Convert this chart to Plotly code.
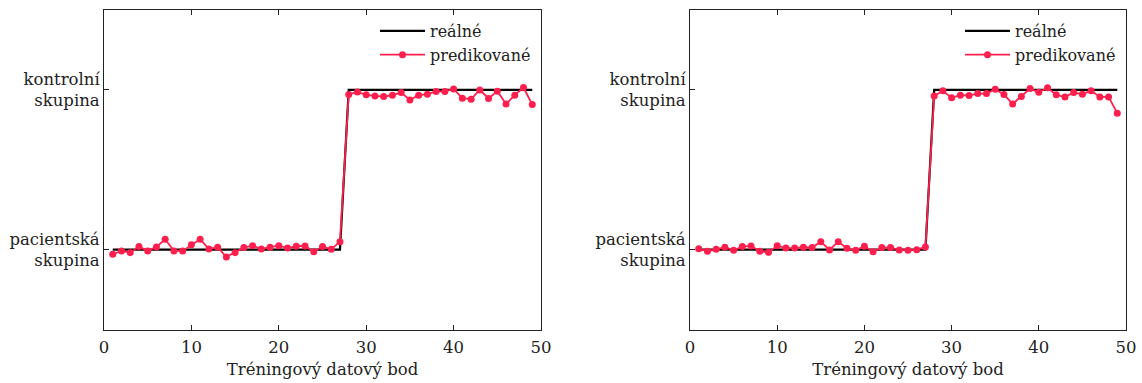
import plotly.graph_objects as go

x_points = list(range(1, 50))
real_values = [0] * 27 + [1] * 22

pred_left = [-0.029, -0.008, -0.019, 0.019, -0.008, 0.017, 0.065, -0.008, -0.008, 0.031,
             0.065, 0.004, 0.015, -0.046, -0.019, 0.013, 0.025, 0.004, 0.015, 0.025,
             0.010, 0.021, 0.023, -0.013, 0.019, 0.002, 0.050,
             0.971, 0.987, 0.969, 0.962, 0.958, 0.967, 0.983, 0.937, 0.967, 0.973,
             0.990, 0.990, 1.006, 0.948, 0.942, 1.000, 0.946, 0.992, 0.912, 0.967,
             1.015, 0.908]

pred_right = [0.006, -0.010, 0.002, 0.015, -0.004, 0.019, 0.023, -0.010, -0.017, 0.025,
              0.010, 0.010, 0.015, 0.013, 0.050, -0.002, 0.050, 0.008, -0.004, 0.021,
              -0.013, 0.013, 0.013, -0.002, -0.004, 0.000, 0.017,
              0.962, 0.994, 0.950, 0.967, 0.965, 0.977, 0.977, 1.004, 0.971, 0.912,
              0.958, 1.008, 0.985, 1.013, 0.969, 0.956, 0.983, 0.973, 0.994, 0.956,
              0.956, 0.854]

x_ticks = [0, 10, 20, 30, 40, 50]
y_tickvals = [0, 1]
y_ticktext = ["pacientská<br>skupina", "kontrolní<br>skupina"]
x_title = "Tréningový datový bod"
legend_names = ["reálné", "predikované"]

RED = "#ff1f4e"
FONT = "DejaVu Serif, Liberation Serif, serif"
FS = 16.5
W, H = 1142, 383

fig = go.Figure()

panels = [(pred_left, "x", "y", "legend"), (pred_right, "x2", "y2", "legend2")]
for pred, xa, ya, lg in panels:
    fig.add_trace(go.Scatter(x=x_points, y=real_values, mode="lines", name=legend_names[0],
                             line=dict(color="black", width=2.2), xaxis=xa, yaxis=ya, legend=lg))
    fig.add_trace(go.Scatter(x=x_points, y=pred, mode="lines+markers", name=legend_names[1],
                             line=dict(color=RED, width=1.8), marker=dict(color=RED, size=7),
                             xaxis=xa, yaxis=ya, legend=lg))

xdoms = [[104 / W, 541 / W], [690 / W, 1126 / W]]
ydom = [1 - 329.5 / H, 1 - 10 / H]

axis_common = dict(showgrid=False, zeroline=False, showline=True, linecolor="#222",
                   linewidth=1, ticks="inside", ticklen=5, tickcolor="#222",
                   tickfont=dict(family=FONT, size=FS, color="#222"))

layout = dict(
    width=W, height=H, margin=dict(l=0, r=0, t=0, b=0),
    paper_bgcolor="white", plot_bgcolor="white",
    font=dict(family=FONT, size=FS, color="#222"),
    showlegend=True,
)
for i, suffix in enumerate(["", "2"]):
    layout["xaxis" + suffix] = dict(domain=xdoms[i], range=[0, 50], tickvals=x_ticks,
                                    mirror="ticks", anchor="y" + suffix, ticklabelstandoff=3,
                                    title=dict(text=x_title, standoff=7,
                                               font=dict(family=FONT, size=FS, color="#222")),
                                    automargin=False, **axis_common)
    layout["yaxis" + suffix] = dict(domain=ydom, range=[-0.5, 1.5], tickvals=y_tickvals,
                                    ticktext=y_ticktext, mirror=True, anchor="x" + suffix,
                                    automargin=False, **axis_common)
    lx = (xdoms[i][1] * W - 166) / W
    layout["legend" + ("" if i == 0 else "2")] = dict(
        x=lx, y=1 - 14 / H, xanchor="left", yanchor="top",
        bgcolor="rgba(0,0,0,0)", borderwidth=0, itemwidth=45,
        font=dict(family=FONT, size=16, color="#222"), tracegroupgap=0)

fig.update_layout(**layout)
fig.write_html("out.html")
